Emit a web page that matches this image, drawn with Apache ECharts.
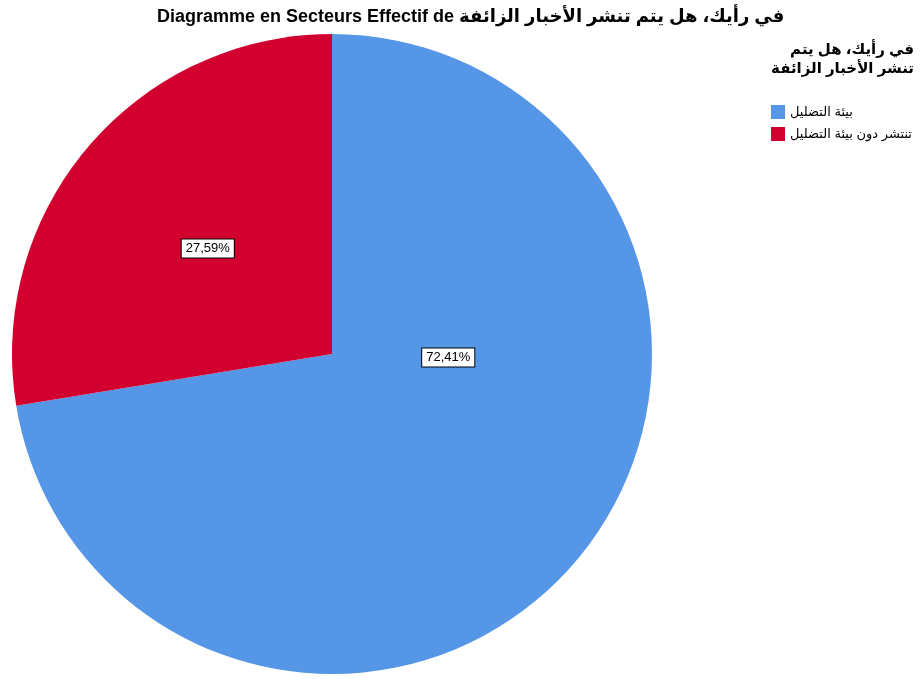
<!DOCTYPE html>
<html>
<head>
<meta charset="utf-8">
<script src="https://cdn.jsdelivr.net/npm/echarts@6/dist/echarts.min.js"></script>
<style>
html,body{margin:0;padding:0;background:#fff;}
#chart{width:923px;height:679px;}
</style>
</head>
<body>
<div id="chart"></div>
<script>
var categories = ["بيئة التضليل", "تنتشر دون بيئة التضليل"];
var counts = [21, 8];
var colors = ["#5596E6", "#D2002E"];
var titleText = "Diagramme en Secteurs Effectif de في رأيك، هل يتم تنشر الأخبار الزائفة";
var legendTitleLines = ["في رأيك، هل يتم", "تنشر الأخبار الزائفة"];

var FONT = "'Liberation Sans', 'DejaVu Sans', Arial, sans-serif";
var total = counts.reduce(function(a,b){return a+b;},0);
var labelOffsets = [[-8,-102],[0,0]];

var chart = echarts.init(document.getElementById('chart'), null, {renderer:'canvas'});
chart.setOption({
  animation:false,
  backgroundColor:'#ffffff',
  title:{
    text:titleText,
    left:152, top:3,
    textStyle:{fontFamily:FONT,fontSize:18,fontWeight:'bold',color:'#000'}
  },
  graphic:legendTitleLines.map(function(t,i){
    return {
      type:'text',
      right:9, top:42 + i*19,
      style:{text:t,fontFamily:FONT,fontSize:15,fontWeight:'bold',fill:'#000'}
    };
  }),
  legend:{
    orient:'vertical',
    left:766, top:100,
    itemWidth:14, itemHeight:14, itemGap:8,
    icon:'rect',
    textStyle:{fontFamily:FONT,fontSize:13,color:'#000'},
    data:categories
  },
  series:[{
    type:'pie',
    center:[332,354],
    radius:[0,320],
    startAngle:90,
    clockwise:true,
    color:colors,
    itemStyle:{borderWidth:0},
    emphasis:{disabled:true},
    label:{
      show:true,
      position:'inside',
      fontFamily:FONT,
      fontSize:13,
      color:'#000',
      backgroundColor:'#fff',
      borderColor:'#000',
      borderWidth:1,
      padding:[3,4,2,4],
      formatter:function(p){
        return (p.value/total*100).toFixed(2).replace('.',',') + '%';
      }
    },
    labelLine:{show:false},
    data:categories.map(function(c,i){
      return {name:c, value:counts[i], label:{offset:labelOffsets[i]}};
    })
  }]
});
</script>
</body>
</html>
